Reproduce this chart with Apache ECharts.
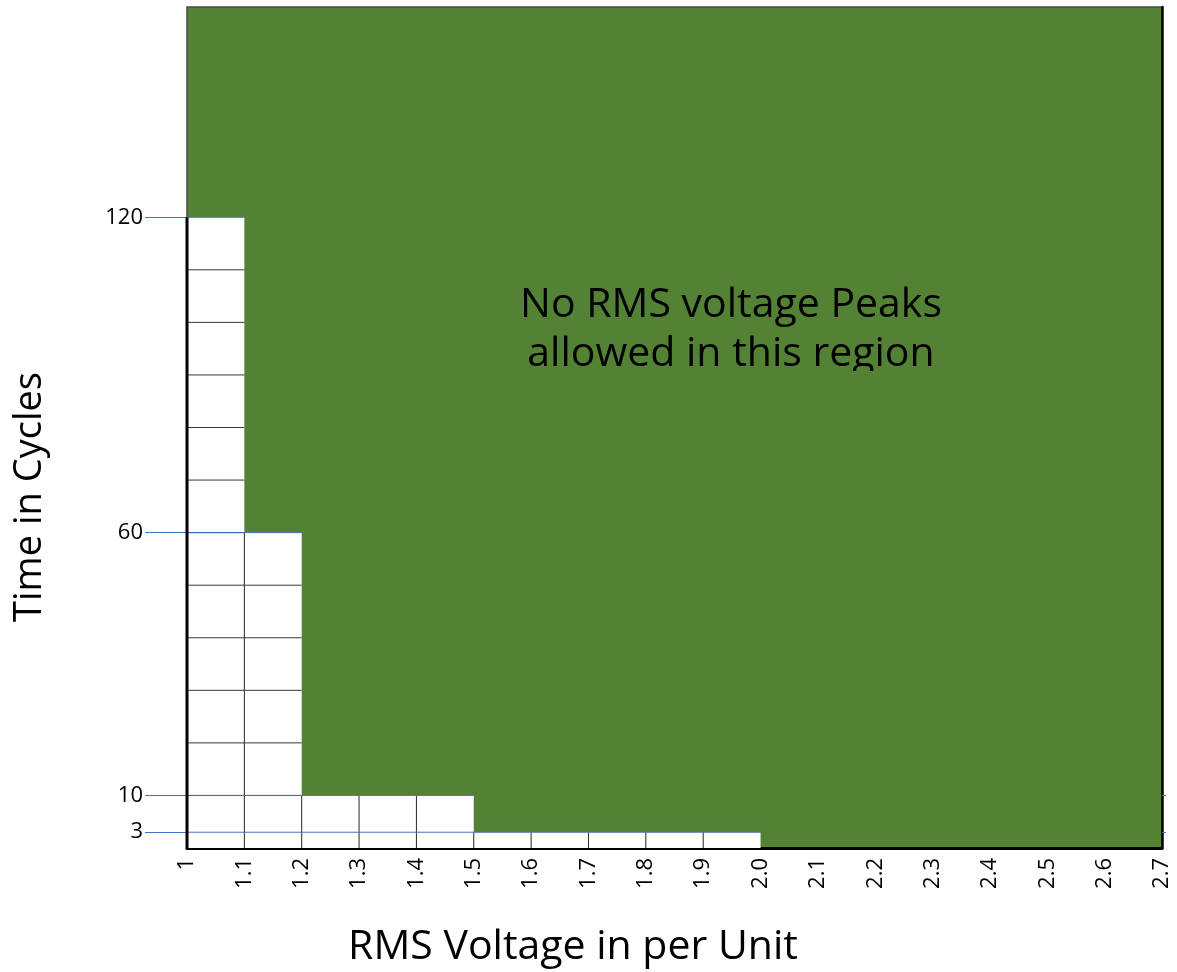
<!DOCTYPE html>
<html>
<head>
<meta charset="utf-8">
<script src="https://cdn.jsdelivr.net/npm/echarts@6/dist/echarts.min.js"></script>
<style>html,body{margin:0;padding:0;background:#fff}#c{width:1177px;height:972px}</style>
</head>
<body>
<div id="c"></div>
<script>
// Envelope: maximum voltage (per unit) allowed for a given duration (cycles)
var thresholdVoltage = [1.1, 1.2, 1.5, 2.0];
var thresholdCycles = [120, 60, 10, 3];
// White cell columns (left edge of each 0.1 pu column)
var columnStarts = [1.0, 1.1, 1.2, 1.3, 1.4, 1.5, 1.6, 1.7, 1.8, 1.9];
var xTickLabels = ['1','1.1','1.2','1.3','1.4','1.5','1.6','1.7','1.8','1.9','2.0','2.1','2.2','2.3','2.4','2.5','2.6','2.7'];
var yTickValues = [3, 10, 60, 120];
var rightTickValues = [3, 10];

var FONT = 'Open Sans';
var GREEN = '#548235';
var BLUE = '#4472C4';

function heightFor(x0) {
  for (var i = 0; i < thresholdVoltage.length; i++) {
    if (x0 < thresholdVoltage[i] - 1e-9) return thresholdCycles[i];
  }
  return 0;
}
var columns = columnStarts.map(function (x0) {
  return [x0, Math.round((x0 + 0.1) * 10) / 10, heightFor(x0)];
});

var chart = echarts.init(document.getElementById('c'));

var series = [{
  type: 'custom',
  clip: false,
  z: 2,
  data: columns,
  renderItem: function (params, api) {
    var x0 = api.value(0), x1 = api.value(1), h = api.value(2);
    var prevH = params.dataIndex > 0 ? columns[params.dataIndex - 1][2] : 0;
    var tl = api.coord([x0, h]), br = api.coord([x1, 0]);
    var children = [{
      type: 'rect',
      shape: { x: tl[0], y: tl[1], width: br[0] - tl[0], height: br[1] - tl[1] },
      style: { fill: '#ffffff' }
    }];
    for (var k = 10; k < h; k += 10) {
      var p = api.coord([x0, k]), q = api.coord([x1, k]);
      children.push({ type: 'line', shape: { x1: p[0], y1: p[1], x2: q[0], y2: q[1] },
        style: { stroke: '#3a3a3a', lineWidth: 1 } });
    }
    if (params.dataIndex > 0) {
      var a = api.coord([x0, 0]), b = api.coord([x0, Math.min(h, prevH)]);
      children.push({ type: 'line', shape: { x1: a[0], y1: a[1], x2: b[0], y2: b[1] },
        style: { stroke: '#2a2a2a', lineWidth: 1 } });
    }
    return { type: 'group', children: children };
  }
}];

thresholdVoltage.forEach(function (v, i) {
  series.push({
    type: 'line', z: 3, clip: false, symbol: 'none', silent: true,
    lineStyle: { color: BLUE, width: 1 },
    data: [[1.0, thresholdCycles[i]], [v, thresholdCycles[i]]]
  });
});
// thick left axis segment (0 .. 120)
series.push({
  type: 'line', z: 5, clip: false, symbol: 'none', silent: true,
  lineStyle: { color: '#000', width: 3 },
  data: [[1.0, 0], [1.0, thresholdCycles[0]]]
});

chart.setOption({
  animation: false,
  backgroundColor: '#fff',
  grid: {
    left: 187, right: 15, top: 7, bottom: 124,
    show: true, backgroundColor: GREEN, borderColor: '#4a4a4a', borderWidth: 1.5
  },
  xAxis: {
    type: 'value', min: 1, max: 2.7, interval: 0.1,
    splitLine: { show: false },
    axisTick: { show: false },
    axisLine: { show: true, onZero: false, lineStyle: { color: '#000', width: 3 } },
    axisLabel: {
      rotate: 90, margin: 10, fontFamily: FONT, fontSize: 22, color: '#000',
      formatter: function (v) { return xTickLabels[Math.round((v - 1) * 10)]; }
    }
  },
  yAxis: [{
    type: 'value', min: 0, max: 160,
    splitLine: { show: false },
    axisLine: { show: false },
    axisTick: { show: true, customValues: yTickValues, length: 42, inside: false,
      lineStyle: { color: BLUE, width: 1 } },
    axisLabel: { customValues: yTickValues, margin: 44, fontFamily: FONT, fontSize: 22, color: '#000',
      padding: [0, 0, 6, 0] }
  }, {
    type: 'value', min: 0, max: 160, position: 'right',
    splitLine: { show: false },
    axisLine: { show: true, lineStyle: { color: '#000', width: 2.5 } },
    axisTick: { show: true, customValues: rightTickValues, length: 4,
      lineStyle: { color: BLUE, width: 1 } },
    axisLabel: { show: false }
  }],
  graphic: [
    { type: 'text', z: 10, x: 731, y: 281,
      style: { text: 'No RMS voltage Peaks\nallowed in this region', fontFamily: FONT, fontSize: 41,
        lineHeight: 49, fill: '#000', align: 'center', verticalAlign: 'top' } },
    { type: 'rect', z: 11, shape: { x: 500, y: 371, width: 470, height: 18 }, style: { fill: GREEN } },
    { type: 'text', z: 10, x: 30, y: 497, rotation: Math.PI / 2,
      style: { text: 'Time in Cycles', fontFamily: FONT, fontSize: 38, fill: '#000',
        align: 'center', verticalAlign: 'middle' } },
    { type: 'text', z: 10, x: 573, y: 947,
      style: { text: 'RMS Voltage in per Unit', fontFamily: FONT, fontSize: 41, fill: '#000',
        align: 'center', verticalAlign: 'middle' } }
  ],
  series: series
});
</script>
</body>
</html>
